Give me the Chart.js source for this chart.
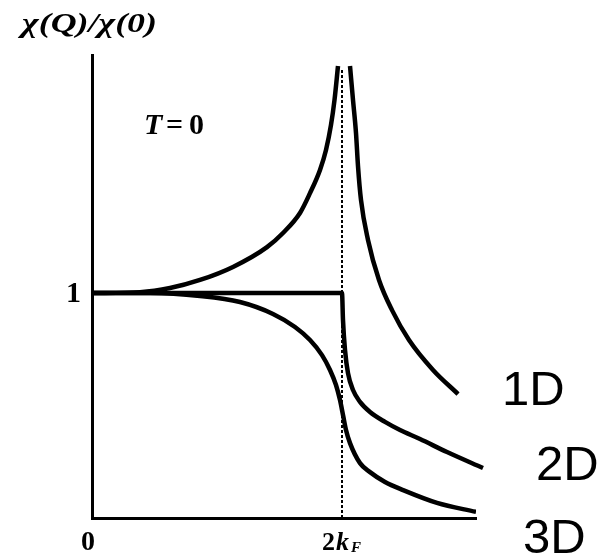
<!DOCTYPE html>
<html>
<head>
<meta charset="utf-8">
<script src="https://cdn.jsdelivr.net/npm/chart.js@4.4.1/dist/chart.umd.min.js"></script>
<style>
  html, body { margin: 0; padding: 0; background: #fff; }
</style>
</head>
<body>
<canvas id="chi" width="602" height="555"></canvas>
<script>
// q in units of 2kF, susceptibility normalised to chi(0)
const oneDLeftQ  = [0, 0.192, 0.312, 0.432, 0.564, 0.7, 0.764, 0.832, 0.872, 0.912, 0.936, 0.956, 0.97, 0.984];
const oneDLeftY  = [1, 1.004, 1.022, 1.058, 1.116, 1.204, 1.267, 1.356, 1.444, 1.547, 1.636, 1.747, 1.858, 2.009];
const oneDRightQ = [1.032, 1.044, 1.056, 1.064, 1.076, 1.104, 1.148, 1.2, 1.268, 1.364, 1.464];
const oneDRightY = [2.009, 1.858, 1.711, 1.564, 1.413, 1.236, 1.058, 0.924, 0.791, 0.658, 0.551];

const twoDQ = [0, 1, 1.004, 1.012, 1.024, 1.044, 1.072, 1.112, 1.172, 1.232, 1.312, 1.42, 1.564];
const twoDY = [1, 1, 0.88, 0.747, 0.644, 0.569, 0.516, 0.471, 0.427, 0.391, 0.351, 0.293, 0.222];

const threeDQ = [0, 0.232, 0.432, 0.592, 0.724, 0.812, 0.872, 0.92, 0.952, 0.976, 0.992, 1.004,
                 1.016, 1.032, 1.072, 1.112, 1.172, 1.244, 1.38, 1.536];
const threeDY = [1, 1, 0.987, 0.96, 0.907, 0.849, 0.791, 0.724, 0.658, 0.591, 0.524, 0.458,
                 0.391, 0.333, 0.244, 0.204, 0.16, 0.124, 0.067, 0.027];

// 2kF marker
const markerQ = [1, 1];
const markerY = [0, 2.0];

const xTicks = [0, 1];
const xTickLabels = ['0', '2k'];
const yTicks = [1];
const yTickLabels = ['1'];
const seriesNames = ['1D', '2D', '3D'];

function pts(xs, ys) {
  return xs.map((x, i) => ({ x: x, y: ys[i] }));
}

const curve = {
  borderColor: '#000',
  borderWidth: 4.5,
  pointRadius: 0,
  fill: false,
  cubicInterpolationMode: 'monotone'
};

// axis labels, tick labels and curve names
const textPlugin = {
  id: 'textPlugin',
  afterDraw(chart) {
    const c = chart.ctx, xs = chart.scales.x, ys = chart.scales.y;
    c.save();
    c.fillStyle = '#000';
    c.textBaseline = 'alphabetic';

    // y axis title
    c.font = 'italic bold 27px "Liberation Serif"';
    const title = 'χ(Q)/χ(0)';
    const w = c.measureText(title).width;
    c.save();
    c.translate(22, 32);
    c.scale(135 / w, 1);
    c.textAlign = 'left';
    c.fillText(title, 0, 0);
    c.restore();

    // T = 0
    c.textAlign = 'left';
    c.font = 'italic bold 30px "Liberation Serif"';
    c.fillText('T', 144, 134);
    c.font = 'bold 30px "Liberation Serif"';
    c.fillText('=', 166, 134);
    c.fillText('0', 189, 134);

    // y tick
    c.font = 'bold 30px "Liberation Serif"';
    c.textAlign = 'right';
    c.fillText(yTickLabels[0], xs.left - 11, ys.getPixelForValue(yTicks[0]) + 9);

    // x ticks
    c.font = 'bold 28px "Liberation Serif"';
    c.textAlign = 'center';
    c.fillText(xTickLabels[0], xs.getPixelForValue(xTicks[0]) - 4, ys.bottom + 32);
    const kx = xs.getPixelForValue(xTicks[1]);
    c.textAlign = 'left';
    c.font = 'bold 26px "Liberation Serif"';
    c.fillText('2', kx - 20, ys.bottom + 32);
    c.font = 'italic bold 26px "Liberation Serif"';
    c.fillText('k', kx - 6, ys.bottom + 32);
    c.font = 'italic bold 15px "Liberation Serif"';
    c.fillText('F', kx + 9, ys.bottom + 34);

    // series names
    c.font = '49px "Liberation Sans"';
    c.textAlign = 'left';
    c.fillText(seriesNames[0], 502, 405);
    c.fillText(seriesNames[1], 536, 480);
    c.fillText(seriesNames[2], 523, 553);
    c.restore();
  }
};

new Chart(document.getElementById('chi'), {
  type: 'scatter',
  data: {
    datasets: [
      { ...curve, label: '1D', data: pts(oneDLeftQ, oneDLeftY), showLine: true },
      { ...curve, label: '1D', data: pts(oneDRightQ, oneDRightY), showLine: true },
      { ...curve, label: '2D', data: pts(twoDQ, twoDY), showLine: true, clip: false },
      { ...curve, label: '3D', data: pts(threeDQ, threeDY), showLine: true },
      {
        label: '2kF', data: pts(markerQ, markerY), showLine: true,
        borderColor: '#000', borderWidth: 2, borderDash: [3, 2], pointRadius: 0
      }
    ]
  },
  options: {
    responsive: false,
    animation: false,
    events: [],
    layout: { padding: { left: 92, top: 55, right: 126, bottom: 37 } },
    plugins: { legend: { display: false }, tooltip: { enabled: false } },
    scales: {
      x: {
        type: 'linear', min: 0, max: 1.536,
        grid: { display: false },
        border: { display: true, color: '#000', width: 3 },
        ticks: { display: false },
        afterFit: s => { s.height = 0; }
      },
      y: {
        type: 'linear', min: 0, max: 2.058,
        grid: { display: false },
        border: { display: true, color: '#000', width: 3 },
        ticks: { display: false },
        afterFit: s => { s.width = 0; }
      }
    }
  },
  plugins: [textPlugin]
});
</script>
</body>
</html>
